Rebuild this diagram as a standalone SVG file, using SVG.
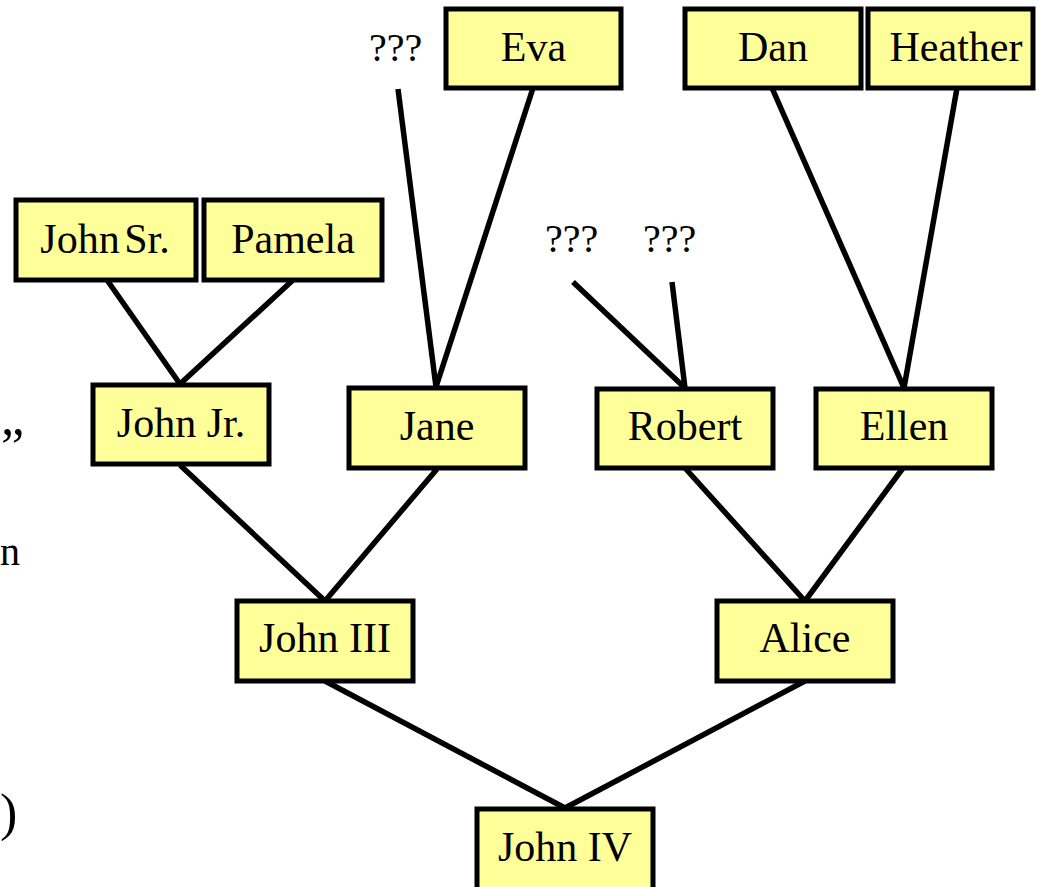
<svg xmlns="http://www.w3.org/2000/svg" width="1039" height="887" viewBox="0 0 1039 887">
<style>
.box{fill:#FFFF99;stroke:#000;stroke-width:5}
.t{font-family:"Liberation Serif","Times New Roman",serif;font-size:42px;fill:#000;text-anchor:middle}
.q{font-family:"Liberation Serif","Times New Roman",serif;font-size:40px;fill:#000}
.f{font-family:"Liberation Serif","Times New Roman",serif;font-size:52px;fill:#000}
.c line{stroke:#000;stroke-width:5.5;stroke-linecap:butt}
</style>
<rect width="1039" height="887" fill="#fff"/>
<g class="c" id="connectors">
<line x1="107" y1="280" x2="180" y2="384"/>
<line x1="293" y1="280" x2="180" y2="384"/>
<line x1="398" y1="89" x2="436" y2="387"/>
<line x1="533" y1="88" x2="436" y2="387"/>
<line x1="573" y1="282" x2="685" y2="388"/>
<line x1="672" y1="282" x2="685" y2="388"/>
<line x1="772" y1="88" x2="904" y2="388"/>
<line x1="957" y1="88" x2="904" y2="388"/>
<line x1="180" y1="465" x2="325" y2="601"/>
<line x1="437" y1="469" x2="325" y2="601"/>
<line x1="685" y1="468" x2="805" y2="601"/>
<line x1="903" y1="468" x2="805" y2="601"/>
<line x1="325" y1="681" x2="565" y2="808"/>
<line x1="805" y1="681" x2="565" y2="808"/>
</g>
<g id="eva"><rect class="box" x="446" y="9" width="175" height="79"/><text class="t" x="533.5" y="61">Eva</text></g>
<g id="dan"><rect class="box" x="685" y="9" width="176" height="79"/><text class="t" x="773" y="61">Dan</text></g>
<g id="heather"><rect class="box" x="868" y="9" width="165" height="79"/><text class="t" x="956" y="61">Heather</text></g>
<g id="john-sr"><rect class="box" x="16" y="200" width="180" height="80"/><text class="t" x="105" y="253" word-spacing="-6">John Sr.</text></g>
<g id="pamela"><rect class="box" x="204" y="200" width="178" height="80"/><text class="t" x="293" y="253">Pamela</text></g>
<g id="john-jr"><rect class="box" x="93" y="385" width="176" height="79"/><text class="t" x="181" y="437">John Jr.</text></g>
<g id="jane"><rect class="box" x="349" y="388" width="176" height="80"/><text class="t" x="437" y="440">Jane</text></g>
<g id="robert"><rect class="box" x="597" y="389" width="176" height="79"/><text class="t" x="685" y="440">Robert</text></g>
<g id="ellen"><rect class="box" x="816" y="389" width="176" height="79"/><text class="t" x="904" y="440">Ellen</text></g>
<g id="john-iii"><rect class="box" x="237" y="601" width="176" height="80"/><text class="t" x="325" y="652">John III</text></g>
<g id="alice"><rect class="box" x="717" y="601" width="176" height="80"/><text class="t" x="805" y="652">Alice</text></g>
<g id="john-iv"><rect class="box" x="477" y="809" width="176" height="85"/><text class="t" x="565" y="861">John IV</text></g>
<g id="unknown-1"><text class="q" x="369" y="61">???</text></g>
<g id="unknown-2"><text class="q" x="545" y="252">???</text></g>
<g id="unknown-3"><text class="q" x="643" y="252">???</text></g>
<text class="f" x="1" y="464">”</text>
<text class="q" x="0" y="565">n</text>
<text class="f" x="0" y="830">)</text>
</svg>
